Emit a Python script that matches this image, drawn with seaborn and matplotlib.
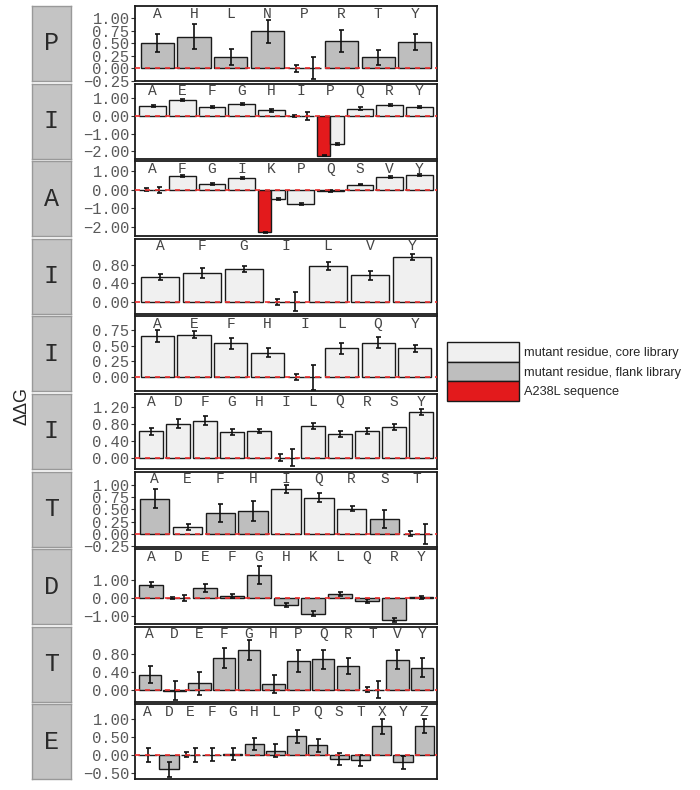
import numpy as np
import pandas as pd
import seaborn as sns
import matplotlib
matplotlib.use('Agg')
from matplotlib import pyplot as plt
from matplotlib.patches import Patch
from matplotlib.ticker import FuncFormatter
import matplotlib.transforms as mtransforms

# wild type residue of each panel (strip label)
wild_type = ['P', 'I', 'A', 'I', 'I', 'I', 'T', 'D', 'T', 'E']

# mutant residues per panel; a residue listed twice is a dodged pair
residues = [
    ['A', 'H', 'L', 'N', 'P', 'P', 'R', 'T', 'Y'],
    ['A', 'E', 'F', 'G', 'H', 'I', 'I', 'P', 'P', 'Q', 'R', 'Y'],
    ['A', 'A', 'F', 'G', 'I', 'K', 'K', 'P', 'Q', 'S', 'V', 'Y'],
    ['A', 'F', 'G', 'I', 'I', 'L', 'V', 'Y'],
    ['A', 'E', 'F', 'H', 'I', 'I', 'L', 'Q', 'Y'],
    ['A', 'D', 'F', 'G', 'H', 'I', 'I', 'L', 'Q', 'R', 'S', 'Y'],
    ['A', 'E', 'F', 'H', 'I', 'Q', 'R', 'S', 'T', 'T'],
    ['A', 'D', 'D', 'E', 'F', 'G', 'H', 'K', 'L', 'Q', 'R', 'Y'],
    ['A', 'D', 'E', 'F', 'G', 'H', 'P', 'Q', 'R', 'T', 'T', 'V', 'Y'],
    ['A', 'D', 'E', 'E', 'F', 'G', 'H', 'L', 'P', 'Q', 'S', 'T', 'X', 'Y', 'Z'],
]
# r = A238L sequence, c = core library, f = flank library
libraries = [
    ['f', 'f', 'f', 'f', 'r', 'f', 'f', 'f', 'f'],
    ['c', 'c', 'c', 'c', 'c', 'r', 'c', 'r', 'c', 'c', 'c', 'c'],
    ['r', 'c', 'c', 'c', 'c', 'r', 'c', 'c', 'c', 'c', 'c', 'c'],
    ['c', 'c', 'c', 'r', 'c', 'c', 'c', 'c'],
    ['c', 'c', 'c', 'c', 'r', 'c', 'c', 'c', 'c'],
    ['c', 'c', 'c', 'c', 'c', 'r', 'c', 'c', 'c', 'c', 'c', 'c'],
    ['f', 'c', 'f', 'f', 'c', 'c', 'c', 'f', 'r', 'f'],
    ['f', 'r', 'f', 'f', 'f', 'f', 'f', 'f', 'f', 'f', 'f', 'f'],
    ['f', 'f', 'f', 'f', 'f', 'f', 'f', 'f', 'f', 'r', 'f', 'f', 'f'],
    ['f', 'f', 'r', 'f', 'f', 'f', 'f', 'f', 'f', 'f', 'f', 'f', 'f', 'f', 'f'],
]
ddg = [
    [0.50, 0.63, 0.22, 0.74, 0, 0, 0.55, 0.22, 0.53],
    [0.54, 0.91, 0.50, 0.66, 0.32, 0, 0, -2.24, -1.59, 0.41, 0.60, 0.49],
    [0, 0, 0.77, 0.31, 0.66, -2.29, -0.47, -0.74, -0.05, 0.29, 0.69, 0.79],
    [0.53, 0.62, 0.71, 0, 0, 0.77, 0.57, 0.97],
    [0.66, 0.68, 0.54, 0.39, 0, 0, 0.46, 0.55, 0.46],
    [0.62, 0.80, 0.87, 0.60, 0.63, 0, 0, 0.75, 0.56, 0.62, 0.73, 1.07],
    [0.72, 0.14, 0.43, 0.47, 0.92, 0.74, 0.51, 0.30, 0, 0],
    [0.76, 0, 0, 0.57, 0.12, 1.32, -0.40, -0.86, 0.22, -0.15, -1.22, 0.05],
    [0.34, -0.03, 0.14, 0.72, 0.90, 0.12, 0.65, 0.69, 0.54, 0, 0, 0.68, 0.50],
    [0, -0.40, 0, 0, 0.0, 0.03, 0.30, 0.12, 0.51, 0.27, -0.12, -0.15, 0.79, -0.20, 0.80],
]
se = [
    [0.18, 0.25, 0.16, 0.23, 0.07, 0.22, 0.22, 0.15, 0.16],
    [0.06, 0.05, 0.08, 0.05, 0.07, 0.08, 0.22, 0.04, 0.04, 0.07, 0.05, 0.07],
    [0.08, 0.18, 0.05, 0.05, 0.05, 0.03, 0.05, 0.05, 0.04, 0.05, 0.05, 0.05],
    [0.07, 0.10, 0.06, 0.07, 0.21, 0.08, 0.09, 0.06],
    [0.10, 0.06, 0.09, 0.07, 0.05, 0.20, 0.09, 0.09, 0.06],
    [0.08, 0.10, 0.10, 0.07, 0.05, 0.08, 0.21, 0.07, 0.07, 0.07, 0.07, 0.07],
    [0.20, 0.07, 0.18, 0.20, 0.08, 0.09, 0.05, 0.18, 0.05, 0.20],
    [0.14, 0.06, 0.18, 0.22, 0.12, 0.50, 0.12, 0.12, 0.12, 0.10, 0.12, 0.08],
    [0.20, 0.22, 0.27, 0.22, 0.22, 0.21, 0.24, 0.22, 0.19, 0.05, 0.20, 0.22, 0.22],
    [0.20, 0.20, 0.07, 0.20, 0.18, 0.16, 0.17, 0.17, 0.18, 0.18, 0.17, 0.15, 0.20, 0.18, 0.20],
]
y_ranges = [(-0.26, 1.25), (-2.4, 1.82), (-2.5, 1.55), (-0.26, 1.36), (-0.23, 0.97),
            (-0.27, 1.5), (-0.26, 1.27), (-1.46, 2.75), (-0.28, 1.43), (-0.68, 1.40)]
y_ticks = [[-0.25, 0, 0.25, 0.5, 0.75, 1.0], [-2, -1, 0, 1], [-2, -1, 0, 1], [0, 0.4, 0.8],
           [0, 0.25, 0.5, 0.75], [0, 0.4, 0.8, 1.2], [-0.25, 0, 0.25, 0.5, 0.75, 1.0],
           [-1, 0, 1], [0, 0.4, 0.8], [-0.5, 0, 0.5, 1.0]]

lib_names = {'c': 'mutant residue, core library', 'f': 'mutant residue, flank library',
             'r': 'A238L sequence'}
lib_colors = {'c': '#F0F0F0', 'f': '#BEBEBE', 'r': '#E31A1C'}

sns.set_theme(style='white')
plt.rcParams['font.family'] = ['Liberation Mono', 'DejaVu Sans']

W, H = 700, 790
fig = plt.figure(figsize=(7, 7.9), dpi=100)

fmt = FuncFormatter(lambda v, p: ('%.2f' % v).replace('-', '\u2212'))

for k in range(len(wild_type)):
    df = pd.DataFrame({'res': residues[k], 'lib': libraries[k], 'ddg': ddg[k], 'se': se[k]})
    cats = list(dict.fromkeys(df['res']))
    df['cat'] = df['res'].map({c: i for i, c in enumerate(cats)})
    df['n'] = df.groupby('res')['res'].transform('size')
    df['rank'] = df.groupby('res').cumcount()
    df['w'] = 0.9 / df['n']
    df['x'] = df['cat'] - 0.45 + df['w'] * (df['rank'] + 0.5)

    top = 6 + k * 77.6
    ax = fig.add_axes([135 / W, 1 - (top + 75) / H, 302 / W, 75 / H])
    ax.bar(df['x'], df['ddg'], width=df['w'], color=[lib_colors[l] for l in df['lib']],
           edgecolor='#1a1a1a', linewidth=1.0, zorder=2)
    ax.errorbar(df['x'], df['ddg'], yerr=df['se'], fmt='none', ecolor='#111111',
                elinewidth=1.2, capsize=1.8, capthick=1.2, zorder=3)
    ax.axhline(0, color='#F03030', lw=1.2, ls=(0, (3, 3)), zorder=4)
    trans = mtransforms.blended_transform_factory(ax.transData, ax.transAxes)
    for i, c in enumerate(cats):
        ax.text(i, 0.9, c, transform=trans, ha='center', va='center', fontsize=10.5,
                color='#444444')
    ax.set_xlim(-0.6, len(cats) - 0.4)
    ax.set_ylim(*y_ranges[k])
    ax.set_yticks(y_ticks[k])
    ax.yaxis.set_major_formatter(fmt)
    ax.set_xticks([])
    ax.tick_params(axis='y', left=True, length=3, width=0.8, color='#333333',
                   labelsize=11.2, labelcolor='#5a5a5a', pad=1)
    for s in ax.spines.values():
        s.set_color('#1a1a1a')
        s.set_linewidth(1.3)

    sax = fig.add_axes([32 / W, 1 - (top + 75) / H, 39 / W, 75 / H])
    sax.set_facecolor('#C4C4C4')
    sax.set_xticks([])
    sax.set_yticks([])
    for s in sax.spines.values():
        s.set_color('#999999')
        s.set_linewidth(1.0)
    sax.text(0.5, 0.5, wild_type[k], transform=sax.transAxes, ha='center', va='center',
             fontsize=18, color='#2a2a2a')

fig.text(22 / W, 1 - 406 / H, '\u0394\u0394G', rotation=90, ha='center', va='center',
         fontsize=13, family=['Liberation Sans', 'DejaVu Sans'])

handles = [Patch(facecolor=lib_colors[l], edgecolor='#1a1a1a', linewidth=1.0)
           for l in ['c', 'f', 'r']]
fig.legend(handles, [lib_names[l] for l in ['c', 'f', 'r']], loc='upper left',
           bbox_to_anchor=(447 / W, 1 - 342 / H), frameon=False, borderpad=0,
           borderaxespad=0, handlelength=5.6, handleheight=2.0, labelspacing=0,
           handletextpad=0.45, prop={'family': ['Liberation Sans', 'DejaVu Sans'], 'size': 9.2})

fig.savefig('out.png', dpi=100)
